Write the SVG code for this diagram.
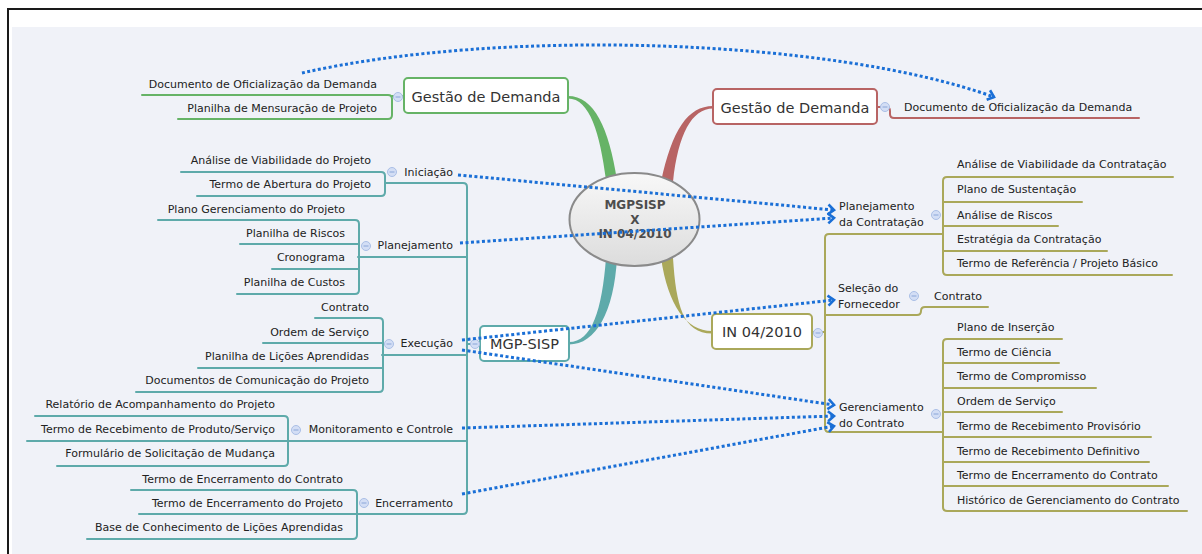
<svg xmlns="http://www.w3.org/2000/svg" xmlns:xlink="http://www.w3.org/1999/xlink" width="1202" height="554" viewBox="0 0 1202 554">
<defs>
<style>
.lf{font-family:"DejaVu Sans",Verdana,sans-serif;font-size:11px;fill:#222}
.le{text-anchor:end}
.ttl{font-family:"DejaVu Sans",Verdana,sans-serif;font-size:14.5px;fill:#333;text-anchor:middle}
.ctr{font-family:"DejaVu Sans",Verdana,sans-serif;font-size:12px;font-weight:bold;fill:#4d4d4d;text-anchor:middle}
.t{fill:none;stroke-width:2;stroke-linecap:round;stroke-linejoin:round}
.teal{stroke:#5eaaaa}
.olive{stroke:#aaa85a}
.grn{stroke:#66b366}
.red{stroke:#b86464}
.box{fill:#fff;stroke-width:2}
.rel{fill:none;stroke:#1a6fd6;stroke-width:3;stroke-dasharray:3 2.5}
</style>
<linearGradient id="eg" x1="0" y1="0" x2="0" y2="1">
<stop offset="0" stop-color="#f8f8f8"/>
<stop offset="1" stop-color="#dcdcdc"/>
</linearGradient>
<g id="cb">
<circle r="4.5" fill="#d3def5" stroke="#aabfe6" stroke-width="1"/>
<line x1="-2.5" y1="0" x2="2.5" y2="0" stroke="#8aa6d8" stroke-width="1"/>
</g>
<marker id="ah" markerUnits="userSpaceOnUse" markerWidth="14" markerHeight="14" refX="10" refY="7" orient="auto" viewBox="0 0 14 14">
<path d="M4,2 L10,7 L4,12" fill="none" stroke="#1a6fd6" stroke-width="2.6" stroke-dasharray="none"/>
</marker>
</defs>

<rect x="0" y="0" width="1202" height="554" fill="#fff"/>
<rect x="12" y="27" width="1190" height="527" fill="#f0f2f8"/>
<path d="M8 554 V9 H1202" fill="none" stroke="#1a1a1a" stroke-width="2"/>

<g id="connectors">
<!-- branches from center -->
<path d="M568 96 C594 96 609 128 617 180 L606 180 C600 134 590 98.5 568 98.5 Z" fill="#66b366"/>
<path d="M713 106 C688 106 672 130 661 182 L673 182 C678 134 692 108.5 713 108.5 Z" fill="#b86464"/>
<path d="M569 342 C592 342 602 310 606 258 L617 258 C614 312 596 344.5 569 344.5 Z" fill="#5eaaaa"/>
<path d="M661 258 C668 305 686 331 712 331 L712 333.5 C683 333.5 676 305 673 258 Z" fill="#aaa85a"/>

<!-- green tree -->
<path class="t grn" d="M142 95 H388 Q392 95 392 99 V115 Q392 119 388 119 H178"/>
<path class="t grn" d="M392 96 H404"/>
<!-- red tree -->
<path class="t red" d="M877 107 H886 Q890 107 890 111 V114 Q890 118 894 118 H1139"/>

<!-- teal tree -->
<path class="t teal" d="M385 183 H463 Q467 183 467 187 V510 Q467 514 463 514 H357"/>
<path class="t teal" d="M358 257 H467 M382 355 H467 M288 441 H467 M467 344 H480"/>
<path class="t teal" d="M181 172 H381 Q385 172 385 176 V192 Q385 196 381 196 H197"/>
<path class="t teal" d="M158 220 H355 Q359 220 359 224 V290 Q359 294 355 294 H237 M240 244 H359 M272 269 H359"/>
<path class="t teal" d="M315 318 H379 Q383 318 383 322 V388 Q383 392 379 392 H136 M263 343 H383 M198 368 H383"/>
<path class="t teal" d="M35 416 H284 Q288 416 288 420 V462 Q288 466 284 466 H57 M27 441 H288"/>
<path class="t teal" d="M131 490 H353 Q357 490 357 494 V535 Q357 539 353 539 H87 M139 514 H357"/>

<!-- olive tree -->
<path class="t olive" d="M943 234 H829 Q825 234 825 238 V428 Q825 432 829 432 H943"/>
<path class="t olive" d="M812 332 H825 M825 315 H917 Q921 315 921 311 Q921 307 925 307 H988"/>
<path class="t olive" d="M1173 177 H947 Q943 177 943 181 V271 Q943 275 947 275 H1172 M943 202 H1082 M943 226 H1058 M943 251 H1107"/>
<path class="t olive" d="M1062 339 H947 Q943 339 943 343 V507 Q943 511 947 511 H1187 M943 363 H1059 M943 388 H1096 M943 412 H1062 M943 437 H1151 M943 462 H1149 M943 486 H1168"/>
</g>

<g id="center">
<ellipse cx="634.5" cy="219.5" rx="65" ry="46.5" fill="url(#eg)" stroke="#8a8a8a" stroke-width="2"/>
<text class="ctr" x="635" y="209">MGPSISP</text>
<text class="ctr" x="635" y="224">X</text>
<text class="ctr" x="635" y="238">IN 04/2010</text>
</g>

<g id="gd-left">
<rect class="box grn" x="404" y="78" width="164" height="35" rx="4"/>
<text class="ttl" x="486" y="102">Gestão de Demanda</text>
<use xlink:href="#cb" x="398" y="97"/>
</g>
<g id="gd-left-1"><text class="lf le" x="377" y="88">Documento de Oficialização da Demanda</text></g>
<g id="gd-left-2"><text class="lf le" x="377" y="112">Planilha de Mensuração de Projeto</text></g>

<g id="gd-right">
<rect class="box red" x="713" y="89" width="164" height="35" rx="4"/>
<text class="ttl" x="795" y="113">Gestão de Demanda</text>
<use xlink:href="#cb" x="885" y="107"/>
</g>
<g id="gd-right-1"><text class="lf" x="904" y="111">Documento de Oficialização da Demanda</text></g>

<g id="mgp">
<rect class="box teal" x="480" y="326" width="89" height="35" rx="4"/>
<text class="ttl" x="524.5" y="349">MGP-SISP</text>
<use xlink:href="#cb" x="475" y="344"/>
</g>

<g id="in">
<rect class="box olive" x="712" y="314" width="100" height="35" rx="4"/>
<text class="ttl" x="762" y="337">IN 04/2010</text>
<use xlink:href="#cb" x="818" y="333"/>
</g>

<g id="iniciacao">
<text class="lf le" x="453" y="176">Iniciação</text>
<use xlink:href="#cb" x="392" y="172"/>
<text class="lf le" x="371" y="164">Análise de Viabilidade do Projeto</text>
<text class="lf le" x="371" y="188">Termo de Abertura do Projeto</text>
</g>

<g id="planejamento">
<text class="lf le" x="453" y="249">Planejamento</text>
<use xlink:href="#cb" x="366" y="246"/>
<text class="lf le" x="345" y="213">Plano Gerenciamento do Projeto</text>
<text class="lf le" x="345" y="237">Planilha de Riscos</text>
<text class="lf le" x="345" y="261">Cronograma</text>
<text class="lf le" x="345" y="286">Planilha de Custos</text>
</g>

<g id="execucao">
<text class="lf le" x="453" y="347">Execução</text>
<use xlink:href="#cb" x="389" y="344"/>
<text class="lf le" x="369" y="311">Contrato</text>
<text class="lf le" x="369" y="336">Ordem de Serviço</text>
<text class="lf le" x="369" y="360">Planilha de Lições Aprendidas</text>
<text class="lf le" x="369" y="384">Documentos de Comunicação do Projeto</text>
</g>

<g id="monitoramento">
<text class="lf le" x="453" y="433">Monitoramento e Controle</text>
<use xlink:href="#cb" x="296" y="430"/>
<text class="lf le" x="275" y="408">Relatório de Acompanhamento do Projeto</text>
<text class="lf le" x="275" y="433">Termo de Recebimento de Produto/Serviço</text>
<text class="lf le" x="275" y="457">Formulário de Solicitação de Mudança</text>
</g>

<g id="encerramento">
<text class="lf le" x="453" y="507">Encerramento</text>
<use xlink:href="#cb" x="364" y="503"/>
<text class="lf le" x="343" y="483">Termo de Encerramento do Contrato</text>
<text class="lf le" x="343" y="507">Termo de Encerramento do Projeto</text>
<text class="lf le" x="343" y="531">Base de Conhecimento de Lições Aprendidas</text>
</g>

<g id="plan-contratacao">
<text class="lf" x="839" y="210">Planejamento</text>
<text class="lf" x="839" y="226">da Contratação</text>
<use xlink:href="#cb" x="936" y="215"/>
<text class="lf" x="957" y="168">Análise de Viabilidade da Contratação</text>
<text class="lf" x="957" y="193">Plano de Sustentação</text>
<text class="lf" x="957" y="219">Análise de Riscos</text>
<text class="lf" x="957" y="243">Estratégia da Contratação</text>
<text class="lf" x="957" y="267">Termo de Referência / Projeto Básico</text>
</g>

<g id="selecao">
<text class="lf" x="838" y="292">Seleção do</text>
<text class="lf" x="838" y="308">Fornecedor</text>
<use xlink:href="#cb" x="914" y="296"/>
<text class="lf" x="934" y="300">Contrato</text>
</g>

<g id="gerenciamento">
<text class="lf" x="839" y="411">Gerenciamento</text>
<text class="lf" x="839" y="427">do Contrato</text>
<use xlink:href="#cb" x="936" y="414"/>
<text class="lf" x="957" y="331">Plano de Inserção</text>
<text class="lf" x="957" y="356">Termo de Ciência</text>
<text class="lf" x="957" y="380">Termo de Compromisso</text>
<text class="lf" x="957" y="405">Ordem de Serviço</text>
<text class="lf" x="957" y="430">Termo de Recebimento Provisório</text>
<text class="lf" x="957" y="455">Termo de Recebimento Definitivo</text>
<text class="lf" x="957" y="479">Termo de Encerramento do Contrato</text>
<text class="lf" x="957" y="504">Histórico de Gerenciamento do Contrato</text>
</g>

<g id="relations">
<path class="rel" marker-end="url(#ah)" d="M302 73 C500 28 830 38 994 97"/>
<path class="rel" marker-end="url(#ah)" d="M458 175 L834 210"/>
<path class="rel" marker-end="url(#ah)" d="M460 243 L834 218"/>
<path class="rel" marker-end="url(#ah)" d="M462 340 L834 300"/>
<path class="rel" marker-end="url(#ah)" d="M462 350 L834 405"/>
<path class="rel" marker-end="url(#ah)" d="M462 428 L834 416"/>
<path class="rel" marker-end="url(#ah)" d="M462 494 L834 426"/>
</g>
</svg>
